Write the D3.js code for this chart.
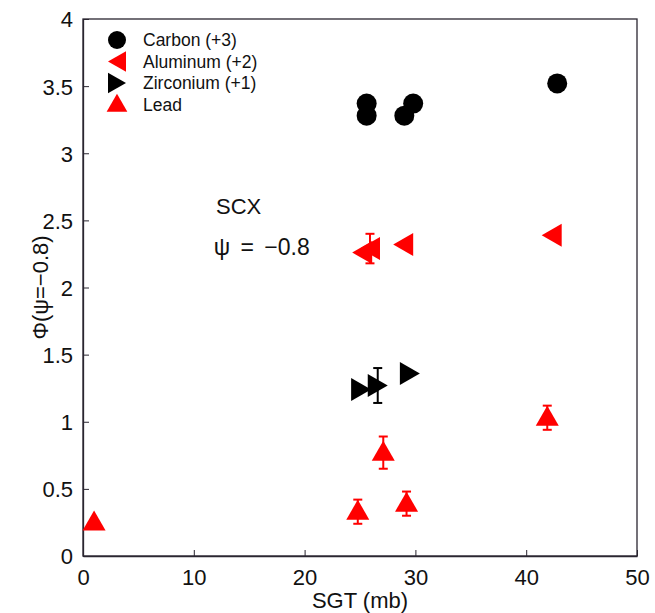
<!DOCTYPE html>
<html>
<head>
<meta charset="utf-8">
<script src="https://cdn.jsdelivr.net/npm/d3@7"></script>
<style>
  body { margin: 0; background: #fff; }
  svg { font-family: "Liberation Sans", Arial, Helvetica, sans-serif; }
</style>
</head>
<body>
<svg width="655" height="613"></svg>
<script>
// data: SGT (mb) vs Phi(psi=-0.8), err = half-length of error bar
const CARBON_SGT = [25.6, 25.6, 29.8, 29.0, 42.8];
const CARBON_PHI = [3.37, 3.28, 3.37, 3.28, 3.52];

const ALUMINUM_SGT = [25.2, 25.9, 28.9, 42.3];
const ALUMINUM_PHI = [2.26, 2.29, 2.32, 2.39];
const ALUMINUM_ERR = [0, 0.11, 0, 0];

const ZIRCONIUM_SGT = [25.1, 26.6, 29.5];
const ZIRCONIUM_PHI = [1.24, 1.27, 1.36];
const ZIRCONIUM_ERR = [0, 0.13, 0];

const LEAD_SGT = [1.0, 24.8, 27.1, 29.2, 41.9];
const LEAD_PHI = [0.25, 0.33, 0.77, 0.39, 1.03];
const LEAD_ERR = [0, 0.09, 0.12, 0.09, 0.09];

const X_TICKS = [0, 10, 20, 30, 40, 50];
const Y_TICKS = [0, 0.5, 1, 1.5, 2, 2.5, 3, 3.5, 4];

const LEGEND_LABELS = ["Carbon (+3)", "Aluminum (+2)", "Zirconium (+1)", "Lead"];

const MARGIN = {top: 19, right: 18, bottom: 57, left: 83};
const W = 655, H = 613;
const PW = W - MARGIN.left - MARGIN.right;
const PH = H - MARGIN.top - MARGIN.bottom;

const x = d3.scaleLinear().domain([0, 50]).range([0, PW]);
const y = d3.scaleLinear().domain([0, 4]).range([PH, 0]);

const svg = d3.select('svg');
const chart = svg.append('g').attr('transform', `translate(${MARGIN.left},${MARGIN.top})`);

// marker shapes (centered at 0,0)
const shapes = {
  circle: 'M10,0A10,10 0 1,1 -10,0A10,10 0 1,1 10,0Z',
  left: 'M-10,0L10,-11.5L10,11.5Z',
  right: 'M10,0L-10,-11.5L-10,11.5Z',
  up: 'M0,-12L11.5,8L-11.5,8Z'
};

const series = [
  {sgt: CARBON_SGT, phi: CARBON_PHI, err: null, color: '#000', shape: 'circle'},
  {sgt: ALUMINUM_SGT, phi: ALUMINUM_PHI, err: ALUMINUM_ERR, color: '#ff0000', shape: 'left'},
  {sgt: ZIRCONIUM_SGT, phi: ZIRCONIUM_PHI, err: ZIRCONIUM_ERR, color: '#000', shape: 'right'},
  {sgt: LEAD_SGT, phi: LEAD_PHI, err: LEAD_ERR, color: '#ff0000', shape: 'up'}
];

// frame
chart.append('rect')
  .attr('width', PW).attr('height', PH)
  .attr('fill', 'none').attr('stroke', '#2a2630').attr('stroke-width', 1.3);

// axes with inward ticks
const xAxis = chart.append('g')
  .attr('transform', `translate(0,${PH})`)
  .call(d3.axisBottom(x).tickValues(X_TICKS).tickSizeInner(-6).tickSizeOuter(0).tickPadding(13));
const yAxis = chart.append('g')
  .call(d3.axisLeft(y).tickValues(Y_TICKS).tickSizeInner(-6).tickSizeOuter(0).tickPadding(10)
    .tickFormat(d3.format('')));

[xAxis, yAxis].forEach(a => {
  a.select('.domain').attr('stroke', '#2a2630').attr('stroke-width', 1.3);
  a.selectAll('.tick line').attr('stroke', '#2a2630');
  a.selectAll('.tick text').attr('font-size', 22).attr('fill', '#111')
    .attr('font-family', '"Liberation Sans", Arial, sans-serif');
});
yAxis.selectAll('.tick text').attr('dy', '0.36em');

// axis labels
svg.append('text')
  .attr('x', MARGIN.left + PW / 2).attr('y', 608)
  .attr('text-anchor', 'middle').attr('font-size', 22).attr('fill', '#111')
  .text('SGT (mb)');
svg.append('text')
  .attr('transform', `translate(48,${MARGIN.top + PH / 2}) rotate(-90)`)
  .attr('text-anchor', 'middle').attr('font-size', 22).attr('fill', '#111')
  .text('Φ(ψ=−0.8)');

// annotations
chart.append('text')
  .attr('x', x(12)).attr('y', y(2.55))
  .attr('font-size', 22).attr('fill', '#111')
  .text('SCX');
chart.append('text')
  .attr('x', x(11.8)).attr('y', y(2.24))
  .attr('font-size', 23).attr('fill', '#111')
  .attr('word-spacing', 4)
  .text('ψ = −0.8');

// error bars then markers
series.forEach(s => {
  const pts = s.sgt.map((v, i) => ({sgt: v, phi: s.phi[i], err: s.err ? s.err[i] : 0}));
  const g = chart.append('g');
  const eb = g.selectAll('.eb').data(pts.filter(d => d.err > 0)).enter().append('g')
    .attr('stroke', s.color).attr('stroke-width', 2);
  eb.append('line')
    .attr('x1', d => x(d.sgt)).attr('x2', d => x(d.sgt))
    .attr('y1', d => y(d.phi - d.err)).attr('y2', d => y(d.phi + d.err));
  [-1, 1].forEach(sign => {
    eb.append('line')
      .attr('x1', d => x(d.sgt) - 4.5).attr('x2', d => x(d.sgt) + 4.5)
      .attr('y1', d => y(d.phi + sign * d.err)).attr('y2', d => y(d.phi + sign * d.err));
  });
  g.selectAll('.mk').data(pts).enter().append('path')
    .attr('d', shapes[s.shape])
    .attr('transform', d => `translate(${x(d.sgt)},${y(d.phi)})`)
    .attr('fill', s.color);
});

// legend
const legend = svg.append('g').attr('transform', 'translate(117,40)');
LEGEND_LABELS.forEach((lab, i) => {
  const row = legend.append('g').attr('transform', `translate(0,${i * 21.5})`);
  row.append('path').attr('d', shapes[series[i].shape])
    .attr('transform', 'scale(0.9)')
    .attr('fill', series[i].color);
  row.append('text').attr('x', 26).attr('y', 0).attr('dy', '0.35em')
    .attr('font-size', 17.5).attr('fill', '#111').text(lab);
});
</script>
</body>
</html>
